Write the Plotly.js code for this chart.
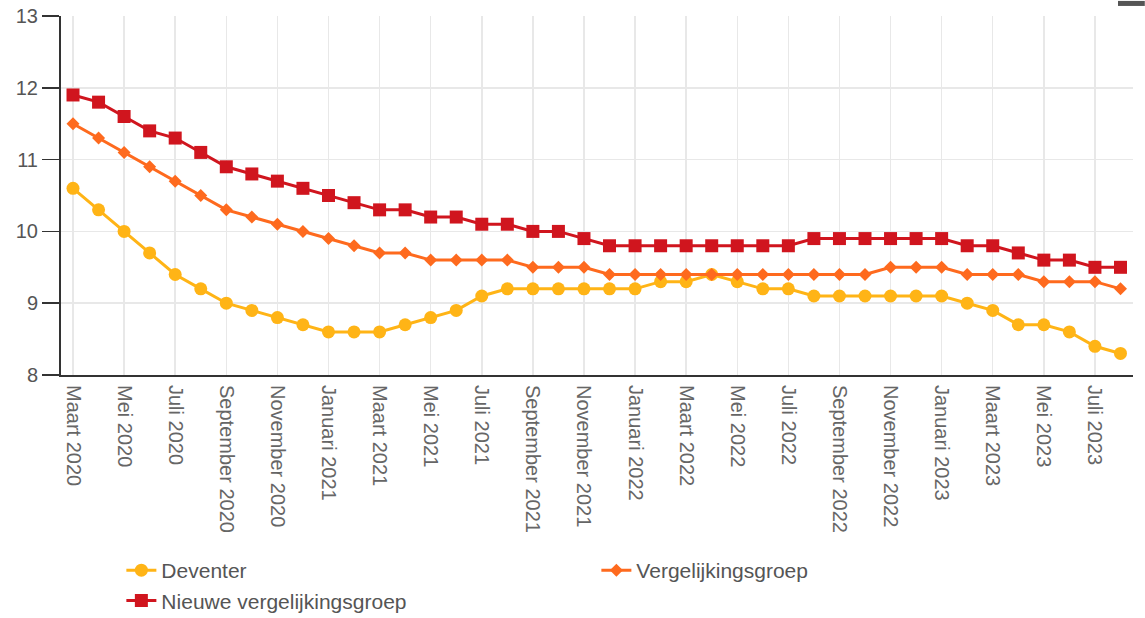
<!DOCTYPE html>
<html>
<head>
<meta charset="utf-8">
<script src="https://cdn.plot.ly/plotly-3.0.1.min.js"></script>
<style>
  html, body { margin: 0; padding: 0; background: #fff; }
  #chart { width: 1145px; height: 618px; }
</style>
</head>
<body>
<div id="chart"></div>
<script>
const months = [
  "Maart 2020","April 2020","Mei 2020","Juni 2020","Juli 2020","Augustus 2020",
  "September 2020","Oktober 2020","November 2020","December 2020",
  "Januari 2021","Februari 2021","Maart 2021","April 2021","Mei 2021","Juni 2021",
  "Juli 2021","Augustus 2021","September 2021","Oktober 2021","November 2021","December 2021",
  "Januari 2022","Februari 2022","Maart 2022","April 2022","Mei 2022","Juni 2022",
  "Juli 2022","Augustus 2022","September 2022","Oktober 2022","November 2022","December 2022",
  "Januari 2023","Februari 2023","Maart 2023","April 2023","Mei 2023","Juni 2023",
  "Juli 2023","Augustus 2023"
];

const deventer = [
  10.6, 10.3, 10.0, 9.7, 9.4, 9.2, 9.0, 8.9, 8.8, 8.7,
  8.6, 8.6, 8.6, 8.7, 8.8, 8.9, 9.1, 9.2, 9.2, 9.2, 9.2, 9.2,
  9.2, 9.3, 9.3, 9.4, 9.3, 9.2, 9.2, 9.1, 9.1, 9.1, 9.1, 9.1,
  9.1, 9.0, 8.9, 8.7, 8.7, 8.6, 8.4, 8.3
];

const vergelijkingsgroep = [
  11.5, 11.3, 11.1, 10.9, 10.7, 10.5, 10.3, 10.2, 10.1, 10.0,
  9.9, 9.8, 9.7, 9.7, 9.6, 9.6, 9.6, 9.6, 9.5, 9.5, 9.5, 9.4,
  9.4, 9.4, 9.4, 9.4, 9.4, 9.4, 9.4, 9.4, 9.4, 9.4, 9.5, 9.5,
  9.5, 9.4, 9.4, 9.4, 9.3, 9.3, 9.3, 9.2
];

const nieuweVergelijkingsgroep = [
  11.9, 11.8, 11.6, 11.4, 11.3, 11.1, 10.9, 10.8, 10.7, 10.6,
  10.5, 10.4, 10.3, 10.3, 10.2, 10.2, 10.1, 10.1, 10.0, 10.0, 9.9, 9.8,
  9.8, 9.8, 9.8, 9.8, 9.8, 9.8, 9.8, 9.9, 9.9, 9.9, 9.9, 9.9,
  9.9, 9.8, 9.8, 9.7, 9.6, 9.6, 9.5, 9.5
];

const tickLabels = months.filter((m, i) => i % 2 === 0 && i <= 40);
const yTicks = [8, 9, 10, 11, 12, 13];

const traces = [
  {
    x: months, y: deventer, name: "Deventer", type: "scatter", mode: "lines+markers",
    line: { color: "#ffb416", width: 3 },
    marker: { symbol: "circle", size: 13, color: "#ffb416" }
  },
  {
    x: months, y: vergelijkingsgroep, name: "Vergelijkingsgroep", type: "scatter", mode: "lines+markers",
    line: { color: "#fe6a1e", width: 3 },
    marker: { symbol: "diamond", size: 10, color: "#fe6a1e" }
  },
  {
    x: months, y: nieuweVergelijkingsgroep, name: "Nieuwe vergelijkingsgroep", type: "scatter", mode: "lines+markers",
    line: { color: "#d0151e", width: 3 },
    marker: { symbol: "square", size: 13, color: "#d0151e" }
  }
];

const layout = {
  width: 1145, height: 618,
  margin: { l: 61, r: 12, t: 16, b: 243 },
  paper_bgcolor: "#fff", plot_bgcolor: "#fff",
  font: { family: "Liberation Sans, Arial, sans-serif", color: "#555" },
  showlegend: true,
  xaxis: {
    type: "category",
    categoryorder: "array", categoryarray: months,
    range: [-0.47, 41.49],
    tickmode: "array", tickvals: tickLabels, ticktext: tickLabels,
    tickangle: 90,
    tickfont: { size: 20, color: "#666" },
    ticks: "", ticklabelstandoff: 4,
    showgrid: true, gridcolor: "#e8e8e8", gridwidth: 1.5,
    showline: true, linecolor: "#333", linewidth: 2,
    zeroline: false, fixedrange: true, automargin: false
  },
  yaxis: {
    range: [8, 13],
    tickmode: "array", tickvals: yTicks,
    tickfont: { size: 20, color: "#555" },
    ticks: "outside", ticklen: 17, tickcolor: "#333", tickwidth: 1.5,
    showgrid: true, gridcolor: "#e8e8e8", gridwidth: 1.5,
    showline: true, linecolor: "#333", linewidth: 2,
    zeroline: false, fixedrange: true, automargin: false
  },
  legend: {
    orientation: "h",
    xref: "container", yref: "container",
    x: 0.106, xanchor: "left",
    y: 0.11, yanchor: "top",
    entrywidth: 430, entrywidthmode: "pixels",
    font: { size: 21, color: "#555" },
    itemwidth: 30,
    tracegroupgap: 0
  },
  shapes: [
    {
      type: "rect", xref: "paper", yref: "paper",
      x0: 0.986, x1: 1.011, y0: 1.028, y1: 1.042,
      fillcolor: "#555", line: { width: 0 }
    }
  ]
};

Plotly.newPlot("chart", traces, layout, { staticPlot: true, displayModeBar: false });
</script>
</body>
</html>
